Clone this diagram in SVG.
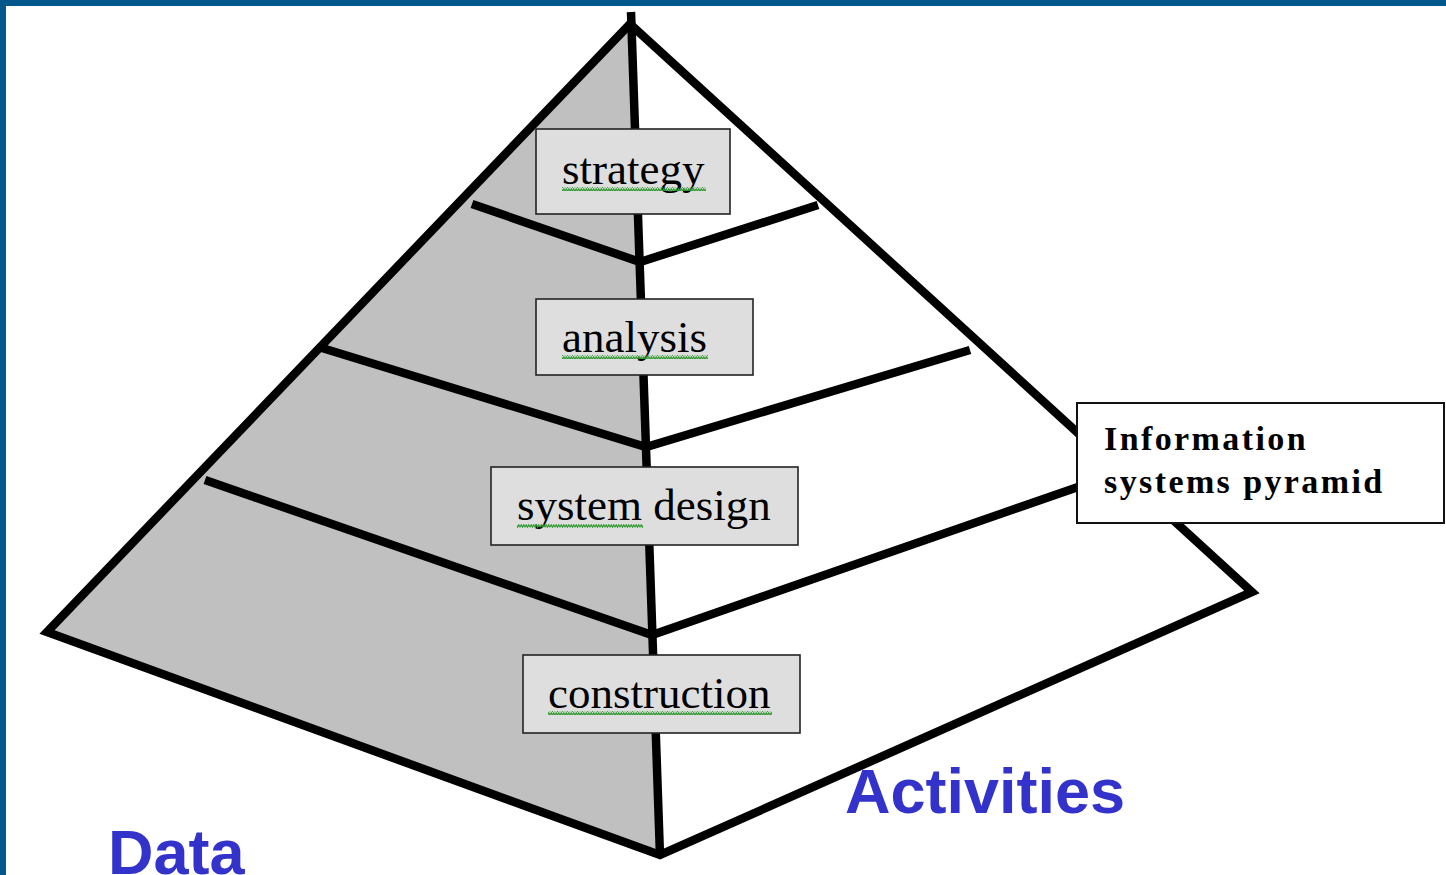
<svg xmlns="http://www.w3.org/2000/svg" width="1446" height="875" viewBox="0 0 1446 875">
<style>
.edge{stroke:#000;stroke-width:8.5;fill:none;stroke-linejoin:miter;stroke-linecap:butt}
.box{fill:#dedede;stroke:#222;stroke-width:1.6}
.lbl{font-family:"Liberation Serif","Times New Roman",serif;font-size:45px;fill:#000}
.info{font-family:"Liberation Serif","Times New Roman",serif;font-size:34px;font-weight:bold;letter-spacing:2.4px;fill:#000}
.blue{font-family:"Liberation Sans",Arial,sans-serif;font-size:63px;font-weight:bold;fill:#3333cc}
</style>
<defs>
<pattern id="wave" width="5" height="4" patternUnits="userSpaceOnUse">
<polyline points="0,3.2 1.25,0.8 2.5,3.2 3.75,0.8 5,3.2" fill="none" stroke="#2e9a2e" stroke-width="1.2"/>
</pattern>
</defs>
<rect x="0" y="0" width="1446" height="875" fill="#ffffff"/>
<rect x="0" y="0" width="1446" height="6" fill="#04578a"/>
<rect x="0" y="0" width="6" height="875" fill="#04578a"/>

<g id="pyramid">
<polygon points="631,20 47,632 660,855" fill="#c0c0c0"/>
<polygon class="edge" points="630,24 47,632 660,855 1252,592"/>
<line class="edge" x1="631" y1="12" x2="660" y2="856" stroke-width="9.5"/>
</g>

<g id="connectors">
<polyline class="edge" points="472,204 640,262 818,205"/>
<polyline class="edge" points="322,348 646,447 970,350"/>
<polyline class="edge" points="205,480 652,635 1078,487"/>
</g>

<g id="strategy">
<rect class="box" x="536" y="129" width="194" height="85"/>
<text class="lbl" x="562" y="184">strategy</text>
<rect x="562" y="187" width="144" height="4" fill="url(#wave)"/>
</g>
<g id="analysis">
<rect class="box" x="536" y="299" width="217" height="76"/>
<text class="lbl" x="562" y="352">analysis</text>
<rect x="562" y="355" width="146" height="4" fill="url(#wave)"/>
</g>
<g id="system-design">
<rect class="box" x="491" y="467" width="307" height="78"/>
<text class="lbl" x="517" y="520">system design</text>
<rect x="517" y="524" width="126" height="4" fill="url(#wave)"/>
</g>
<g id="construction">
<rect class="box" x="523" y="655" width="277" height="78"/>
<text class="lbl" x="548" y="708">construction</text>
<rect x="548" y="711" width="224" height="4" fill="url(#wave)"/>
</g>

<g id="info">
<rect x="1077" y="403" width="367" height="120" fill="#ffffff" stroke="#111" stroke-width="2"/>
<text class="info" x="1104" y="450">Information</text>
<text class="info" x="1104" y="493">systems pyramid</text>
</g>

<g id="activities">
<text class="blue" x="845" y="813">Activities</text>
</g>
<g id="data">
<text class="blue" x="108" y="874">Data</text>
</g>
</svg>
